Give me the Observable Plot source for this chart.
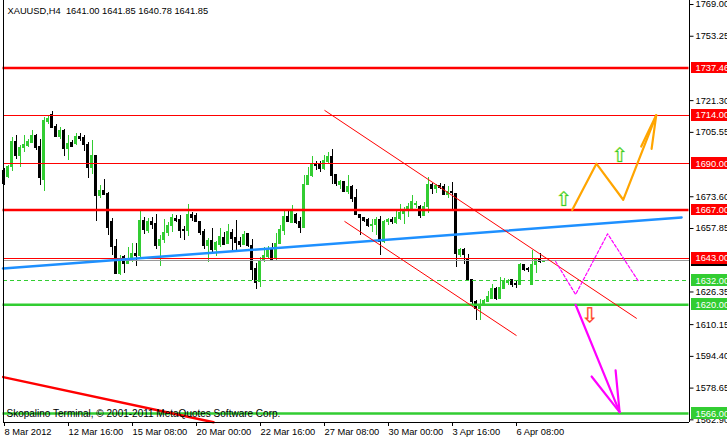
<!DOCTYPE html>
<html><head><meta charset="utf-8">
<script src="https://cdn.jsdelivr.net/npm/d3@7"></script>
<script src="https://cdn.jsdelivr.net/npm/@observablehq/plot@0.6"></script>
<style>
html,body{margin:0;padding:0;background:#fff;overflow:hidden}
#chart svg{display:block}
</style></head><body><div id="chart"></div>
<script>
// ---- data ----
const symbol = "XAUUSD,H4";
const footerText = "Skopalino Terminal, \u00a9 2001-2011 MetaQuotes Software Corp.";

const open = [1686.5,1683.5,1688.5,1700.8,1693.9,1698.0,1698.8,1700.5,1703.8,1698.5,
1682.0,1710.7,1714.0,1708.4,1703.3,1706.2,1697.5,1700.2,1699.7,1703.3,
1702.6,1699.3,1688.1,1693.6,1674.1,1676.6,1675.1,1660.9,1648.9,1635.4,
1643.7,1640.4,1642.8,1645.3,1644.0,1661.8,1656.4,1661.3,1660.1,1649.4,
1651.9,1655.7,1659.3,1662.6,1662.3,1657.3,1656.4,1664.7,1664.2,1661.3,
1656.0,1649.4,1651.4,1647.4,1649.8,1653.2,1650.2,1655.7,1653.2,1651.0,
1649.9,1654.9,1649.4,1637.6,1631.3,1641.5,1643.7,1647.8,1642.5,1650.2,
1656.8,1663.8,1660.6,1664.7,1661.3,1658.0,1679.6,1683.7,1689.8,1689.5,
1687.3,1690.9,1693.1,1684.5,1679.6,1681.0,1676.1,1678.2,1673.0,1664.7,
1663.1,1662.1,1659.0,1659.8,1662.3,1651.1,1661.0,1662.1,1660.6,1662.6,
1665.1,1666.7,1667.5,1669.5,1668.4,1664.0,1668.7,1679.6,1677.4,1679.1,
1678.2,1674.5,1676.1,1675.0,1644.8,1647.0,1642.8,1632.1,1621.4,1618.1,
1619.8,1621.4,1623.1,1628.0,1622.7,1628.0,1631.0,1632.1,1630.2,1629.7,
1639.5,1637.9,1629.7,1639.5,1642.0,1641.00];
const high = [1687.5,1689.0,1703.0,1703.8,1698.8,1703.8,1702.1,1706.7,1704.6,1701.8,
1712.8,1713.7,1716.1,1709.5,1708.2,1707.1,1703.8,1701.3,1705.1,1705.1,
1704.1,1700.5,1701.3,1693.9,1679.1,1682.0,1675.5,1662.6,1652.2,1644.5,
1644.5,1648.3,1650.2,1650.2,1666.2,1663.4,1662.6,1663.4,1664.7,1654.4,
1662.3,1660.6,1664.7,1664.2,1664.2,1659.0,1669.7,1665.6,1665.1,1661.3,
1657.3,1653.0,1657.7,1651.4,1658.0,1656.0,1659.8,1657.3,1661.8,1653.5,
1656.4,1655.5,1652.4,1640.4,1643.7,1648.6,1648.9,1650.6,1655.2,1659.3,
1666.2,1666.2,1669.2,1665.1,1663.4,1684.0,1688.1,1693.6,1690.9,1690.9,
1693.9,1695.5,1697.2,1684.8,1681.5,1681.0,1684.3,1679.1,1677.4,1664.7,
1663.4,1662.6,1662.3,1663.4,1663.8,1661.8,1662.9,1663.4,1666.2,1669.7,
1668.4,1670.5,1674.1,1671.0,1669.2,1670.8,1683.2,1680.4,1679.9,1680.4,
1679.9,1678.6,1680.7,1675.4,1647.8,1647.8,1644.8,1632.1,1622.2,1622.7,
1622.6,1626.4,1630.0,1628.8,1633.3,1633.0,1632.6,1632.6,1631.3,1640.4,
1640.0,1638.4,1647.0,1642.8,1645.3,1641.85];
const low = [1679.0,1682.7,1686.2,1692.2,1688.1,1695.5,1698.0,1700.2,1696.4,1679.1,
1676.1,1709.5,1707.4,1702.8,1702.1,1693.6,1691.4,1698.0,1698.8,1700.8,
1695.9,1682.7,1684.8,1661.3,1672.5,1674.1,1654.4,1644.5,1635.1,1634.3,
1635.4,1640.2,1641.2,1639.0,1643.5,1654.9,1655.2,1657.3,1647.4,1639.0,
1650.2,1654.0,1656.0,1660.6,1653.0,1651.9,1654.0,1661.3,1660.6,1654.4,
1647.4,1641.2,1645.3,1644.2,1648.6,1649.4,1649.8,1646.1,1646.1,1648.6,
1649.4,1648.6,1632.1,1627.7,1628.8,1641.2,1643.2,1641.5,1641.5,1649.8,
1654.4,1660.6,1660.1,1659.6,1655.2,1657.7,1679.1,1683.2,1686.8,1685.7,
1686.5,1690.3,1679.9,1678.7,1677.4,1675.8,1674.5,1670.8,1664.2,1654.4,
1661.0,1658.5,1656.0,1654.4,1644.5,1650.2,1659.3,1659.6,1659.6,1661.8,
1659.6,1663.4,1666.5,1668.0,1662.6,1663.8,1665.1,1674.5,1675.4,1677.1,
1674.1,1672.8,1667.2,1638.7,1643.7,1639.9,1631.3,1619.8,1612.4,1612.4,
1619.0,1621.1,1622.7,1622.2,1622.6,1627.5,1629.7,1628.8,1628.0,1629.4,
1636.7,1636.2,1629.7,1635.4,1640.4,1640.78];
const close = [1680.0,1688.5,1700.8,1693.9,1698.0,1699.5,1700.8,1703.8,1698.0,1682.7,
1711.2,1712.0,1707.9,1703.3,1706.2,1697.5,1699.7,1698.5,1703.3,1702.1,
1699.2,1688.1,1693.6,1674.1,1676.6,1674.5,1658.0,1648.6,1635.4,1642.8,
1640.4,1642.8,1645.3,1644.0,1661.8,1657.2,1661.3,1659.8,1649.4,1651.9,
1655.7,1659.3,1663.1,1661.8,1656.8,1656.4,1664.6,1662.9,1661.0,1655.5,
1649.4,1651.4,1647.4,1650.6,1653.5,1649.9,1656.0,1652.4,1650.7,1649.9,
1654.4,1649.1,1637.1,1631.0,1641.7,1644.2,1647.0,1642.0,1650.2,1657.3,
1663.8,1661.0,1666.2,1660.6,1658.0,1679.6,1684.0,1689.3,1689.0,1687.3,
1691.4,1693.1,1684.0,1679.9,1681.0,1676.1,1678.2,1672.5,1664.6,1662.9,
1661.8,1659.0,1659.8,1662.1,1651.1,1661.3,1662.3,1661.0,1662.9,1665.6,
1667.2,1668.4,1670.8,1670.2,1664.0,1668.7,1679.6,1677.4,1679.1,1677.8,
1674.5,1676.1,1675.4,1645.3,1647.0,1644.8,1632.1,1621.4,1617.8,1620.1,
1621.8,1623.9,1627.7,1622.7,1628.3,1631.3,1631.8,1629.7,1629.7,1639.9,
1637.4,1637.4,1639.5,1642.0,1641.2,1641.85];

const timeLabels = ["8 Mar 2012","12 Mar 16:00","15 Mar 08:00","20 Mar 00:00","22 Mar 16:00",
                    "27 Mar 08:00","30 Mar 00:00","3 Apr 16:00","6 Apr 08:00"];
const timeTickBars = [0,16,32,48,64,80,96,112,128];
const priceTicks = [1769.00,1753.25,1721.30,1705.55,1673.60,1657.85,1626.35,1610.15,1594.40,1578.65,1562.90];

const redMajor = [1737.46, 1667.00];
const redMinor = [1714.00, 1690.00, 1643.00];
const redLabels = [1737.46, 1714.00, 1690.00, 1667.00, 1643.00];
const greenMajor = [1620.00, 1566.00];
const greenDashed = [1632.00];
const greenLabels = [1632.00, 1620.00, 1566.00];
const bidPrice = 1641.85;

const blueBars = [-0.25, 169.4];
const bluePrices = [1638.0, 1663.3];
const chanUpBars = [80.2, 158.1];
const chanUpPrices = [1716.4, 1613.3];
const chanLoBars = [85.2, 128.05];
const chanLoPrices = [1661.3, 1604.8];
const oldTrendBars = [-0.2, 52.4];
const oldTrendPrices = [1584.1, 1561.7];

const orangeBars = [142.05, 148.1, 154.8, 163.05];
const orangePrices = [1667.0, 1690.0, 1672.1, 1714.0];
const orangeBarbBars = [161.9, 159.3];
const orangeBarbPrices = [1697.4, 1698.5];

const magDotBars = [137.9, 142.9, 150.9, 158.5];
const magDotPrices = [1641.5, 1625.1, 1655.2, 1632.0];
const magBars = [142.9, 153.9];
const magPrices = [1620.0, 1566.7];
const magBarbBars = [146.9, 152.9];
const magBarbPrices = [1584.4, 1587.4];

const upArrowBars = [139.9, 153.9];
const upArrowPrices = [1672.2, 1694.1];
const downArrowBars = [146.4];
const downArrowPrices = [1614.7];

// ---- build ----
const GREEN = "#32cd32";
const bars = d3.range(open.length).map(i => ({i, o: open[i], h: high[i], l: low[i], c: close[i]}));
const bull = bars.filter(d => d.c >= d.o);
const bear = bars.filter(d => d.c < d.o);
const pts = (b, p) => b.map((v, k) => ({b: v, p: p[k]}));
const xDomain = [-0.25, 171.25];
const yDomain = [1561.58, 1770.985];
const xEnd = xDomain[1];
const last = bars[bars.length - 1];
const title = `${symbol}  ${last.o.toFixed(2)} ${last.h.toFixed(2)} ${last.l.toFixed(2)} ${last.c.toFixed(2)}`;
const barbs = (tipB, tipP, bb, bp) => bb.flatMap((b, k) => [{b: tipB, p: tipP, k}, {b, p: bp[k], k}]);
const FS = 9.3;

const chart = Plot.plot({
  width: 727, height: 439,
  marginTop: 0, marginLeft: 2.5, marginRight: 38.5, marginBottom: 17,
  x: {domain: xDomain, axis: null},
  y: {domain: yDomain, axis: null},
  style: {fontFamily: '"Liberation Sans", Arial, sans-serif', fontSize: FS + "px", background: "#fff", color: "#000", overflow: "visible"},
  marks: [
    // candles
    Plot.ruleX(bull, {x: "i", y1: "l", y2: "h", stroke: GREEN, shapeRendering: "crispEdges"}),
    Plot.ruleX(bear, {x: "i", y1: "l", y2: "h", stroke: "#000", shapeRendering: "crispEdges"}),
    Plot.rect(bull, {x1: d => d.i - 0.375, x2: d => d.i + 0.375, y1: d => d.o, y2: d => d.c, fill: GREEN, insetTop: -0.5, insetBottom: -0.5, shapeRendering: "crispEdges"}),
    Plot.rect(bear, {x1: d => d.i - 0.375, x2: d => d.i + 0.375, y1: d => d.c, y2: d => d.o, fill: "#000", insetTop: -0.5, insetBottom: -0.5, shapeRendering: "crispEdges"}),
    // horizontal levels
    Plot.ruleY([bidPrice], {stroke: "#9a9a9a", shapeRendering: "crispEdges"}),
    Plot.ruleY(greenDashed, {stroke: GREEN, strokeDasharray: "4,3", shapeRendering: "crispEdges"}),
    Plot.ruleY(greenMajor, {stroke: GREEN, strokeWidth: 2.5}),
    Plot.ruleY(redMinor, {stroke: "#ff0000", shapeRendering: "crispEdges"}),
    Plot.ruleY(redMajor, {stroke: "#ff0000", strokeWidth: 2.5}),
    // trend lines
    Plot.line(pts(blueBars, bluePrices), {x: "b", y: "p", stroke: "#1e90ff", strokeWidth: 2.5}),
    Plot.line(pts(chanUpBars, chanUpPrices), {x: "b", y: "p", stroke: "#ff0000", strokeWidth: 1}),
    Plot.line(pts(chanLoBars, chanLoPrices), {x: "b", y: "p", stroke: "#ff0000", strokeWidth: 1}),
    Plot.line(pts(oldTrendBars, oldTrendPrices), {x: "b", y: "p", stroke: "#ff0000", strokeWidth: 2.5}),
    // scenarios
    Plot.line(pts(magDotBars, magDotPrices), {x: "b", y: "p", stroke: "#ff00ff", strokeWidth: 1.2, strokeDasharray: "3,2"}),
    Plot.line(pts(orangeBars, orangePrices), {x: "b", y: "p", stroke: "#ffa500", strokeWidth: 2.2}),
    Plot.line(barbs(orangeBars[3], orangePrices[3], orangeBarbBars, orangeBarbPrices), {x: "b", y: "p", z: "k", stroke: "#ffa500", strokeWidth: 2.2}),
    Plot.line(pts(magBars, magPrices), {x: "b", y: "p", stroke: "#ff00ff", strokeWidth: 2.2}),
    Plot.line(barbs(magBars[1], magPrices[1], magBarbBars, magBarbPrices), {x: "b", y: "p", z: "k", stroke: "#ff00ff", strokeWidth: 2.2}),
    Plot.text(pts(upArrowBars, upArrowPrices), {x: "b", y: "p", text: () => "\u21e7", fill: GREEN, stroke: "#e8f060", strokeWidth: 0.5, fontSize: 20, fontFamily: "DejaVu Sans"}),
    Plot.text(pts(downArrowBars, downArrowPrices), {x: "b", y: "p", text: () => "\u21e9", fill: "#ff3030", stroke: "#ffb040", strokeWidth: 0.5, fontSize: 20, fontFamily: "DejaVu Sans"}),
    // frame
    Plot.ruleX([xDomain[0], xDomain[1]], {stroke: "#000", shapeRendering: "crispEdges"}),
    Plot.ruleY([yDomain[0]], {stroke: "#000", shapeRendering: "crispEdges"}),
    // axes
    Plot.axisY(priceTicks, {anchor: "right", tickSize: 4, tickPadding: 2.5, tickFormat: d => d.toFixed(2), fontSize: FS, stroke: "#000"}),
    Plot.axisX(timeTickBars, {anchor: "bottom", tickSize: 4, tickPadding: 2, tickFormat: d => timeLabels[timeTickBars.indexOf(d)], textAnchor: "start", dx: 0.5, fontSize: FS, stroke: "#000"}),
    // price labels
    Plot.rect([bidPrice], {x1: xEnd + 0.5, x2: xEnd + 10, y1: d => d - 2.9, y2: d => d + 2.9, fill: "#000", shapeRendering: "crispEdges"}),
    Plot.rect(redLabels, {x1: xEnd + 0.5, x2: xEnd + 10, y1: d => d - 2.9, y2: d => d + 2.9, fill: "#ff0000", shapeRendering: "crispEdges"}),
    Plot.rect(greenLabels, {x1: xEnd + 0.5, x2: xEnd + 10, y1: d => d - 2.9, y2: d => d + 2.9, fill: GREEN, shapeRendering: "crispEdges"}),
    Plot.text(redLabels.concat(greenLabels), {x: xEnd, y: d => d, dx: 6.5, text: d => d.toFixed(2), fill: "#fff", textAnchor: "start", fontSize: FS}),
    // texts
    Plot.text([title], {frameAnchor: "top-left", dx: 4.5, dy: 11, lineAnchor: "middle", fontSize: FS, fill: "#000"}),
    Plot.text([footerText], {frameAnchor: "bottom-left", dx: 3.5, dy: -8.5, lineAnchor: "middle", fontSize: 10, fill: "#000"})
  ]
});
document.getElementById("chart").appendChild(chart);
</script></body></html>
